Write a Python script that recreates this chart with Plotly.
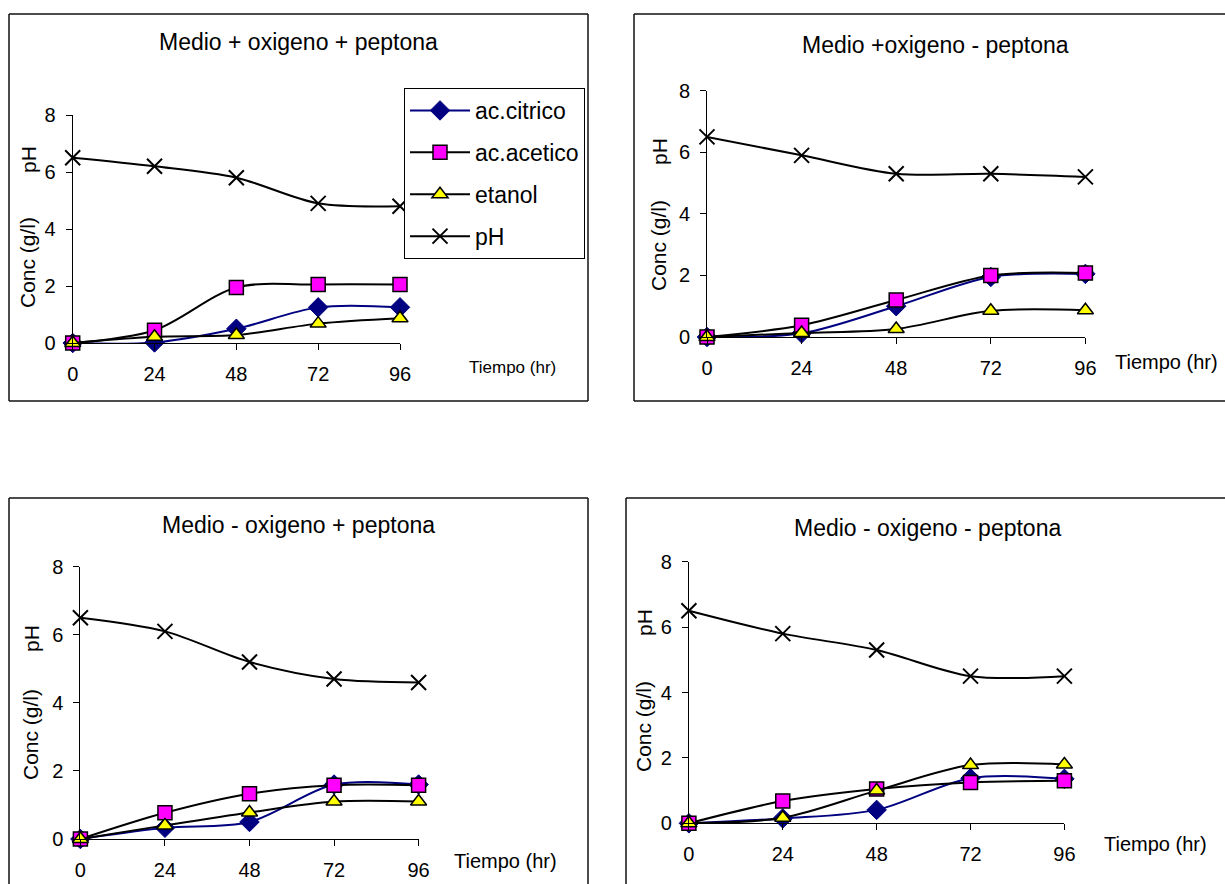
import plotly.graph_objects as go

# ---------------- data ----------------
tiempo = [0, 24, 48, 72, 96]
tiempo_labels = ["0", "24", "48", "72", "96"]
y_ticks = [0, 2, 4, 6, 8]
series_names = ["ac.citrico", "ac.acetico", "etanol", "pH"]

titles = ["Medio + oxigeno + peptona", "Medio +oxigeno - peptona",
          "Medio - oxigeno + peptona", "Medio - oxigeno - peptona"]

p1_citrico = [0, 0.02, 0.5, 1.25, 1.25]
p1_acetico = [0, 0.45, 1.95, 2.05, 2.05]
p1_etanol = [0, 0.22, 0.28, 0.68, 0.87]
p1_ph = [6.5, 6.2, 5.8, 4.9, 4.8]

p2_citrico = [0, 0.12, 1.0, 1.95, 2.05]
p2_acetico = [0, 0.38, 1.2, 2.0, 2.08]
p2_etanol = [0, 0.13, 0.26, 0.85, 0.87]
p2_ph = [6.5, 5.9, 5.3, 5.3, 5.2]

p3_citrico = [0, 0.33, 0.5, 1.6, 1.6]
p3_acetico = [0, 0.77, 1.33, 1.58, 1.58]
p3_etanol = [0, 0.4, 0.78, 1.1, 1.1]
p3_ph = [6.5, 6.1, 5.2, 4.7, 4.6]

p4_citrico = [0, 0.15, 0.41, 1.38, 1.36]
p4_acetico = [0, 0.68, 1.05, 1.25, 1.3]
p4_etanol = [0, 0.17, 1.0, 1.78, 1.8]
p4_ph = [6.5, 5.8, 5.3, 4.5, 4.5]

panel_data = [
    [p1_citrico, p1_acetico, p1_etanol, p1_ph],
    [p2_citrico, p2_acetico, p2_etanol, p2_ph],
    [p3_citrico, p3_acetico, p3_etanol, p3_ph],
    [p4_citrico, p4_acetico, p4_etanol, p4_ph],
]

# ---------------- layout geometry (pixels) ----------------
W, H = 1225, 884
FONT = "Liberation Sans, Arial, Helvetica, sans-serif"


def fx(x):
    return x / W


def fy(y):
    return 1 - y / H


geo = [
    dict(xd=(72.7, 400), yd=(343, 115), title=(298, 42), ph=(28, 160), conc=(27, 263),
         tiempo=(512, 367), tsize=17, frame=(9, 14, 588, 401)),
    dict(xd=(707, 1085.4), yd=(337, 90.7), title=(936, 45), ph=(659, 152), conc=(658, 246),
         tiempo=(1166, 362), tsize=20, frame=(634, 14, None, 401)),
    dict(xd=(80.4, 418.6), yd=(839, 566.7), title=(298, 525), ph=(31, 639), conc=(30, 735),
         tiempo=(505, 861), tsize=20, frame=(9, 498, 588, None)),
    dict(xd=(688.9, 1064.4), yd=(823.3, 561.7), title=(927, 528), ph=(644, 623), conc=(643, 727),
         tiempo=(1155, 844), tsize=20, frame=(626, 498, None, None)),
]

styles = [
    dict(line=dict(color="#000080", width=2),
         marker=dict(symbol="diamond", size=15, color="#000080", line=dict(color="#000080", width=1))),
    dict(line=dict(color="#000000", width=2),
         marker=dict(symbol="square", size=14, color="#FF00FF", line=dict(color="#000000", width=1.5))),
    dict(line=dict(color="#000000", width=2),
         marker=dict(symbol="triangle-up", size=14, color="#FFFF00", line=dict(color="#000000", width=1.5))),
    dict(line=dict(color="#000000", width=2),
         marker=dict(symbol="x-thin", size=15, color="#000000", line=dict(color="#000000", width=2))),
]

fig = go.Figure()
annotations = []
shapes = []
layout_axes = {}


def seg(x0, y0, x1, y1):
    return dict(type="line", xref="paper", yref="paper",
                x0=fx(x0), x1=fx(x1), y0=fy(y0), y1=fy(y1),
                line=dict(color="#111111", width=1.5), layer="below")


for i, (data, g) in enumerate(zip(panel_data, geo)):
    n = "" if i == 0 else str(i + 1)
    for j, (name, vals) in enumerate(zip(series_names, data)):
        st = styles[j]
        fig.add_trace(go.Scatter(
            x=tiempo, y=vals, name=name, mode="lines+markers",
            line=dict(color=st["line"]["color"], width=st["line"]["width"], shape="spline", smoothing=0.9),
            marker=st["marker"], cliponaxis=False,
            xaxis="x" + n, yaxis="y" + n,
            showlegend=(i == 0), legendgroup=name,
        ))
    common = dict(ticks="outside", ticklen=6, tickwidth=1, tickcolor="black",
                  showline=True, linecolor="black", linewidth=1,
                  showgrid=False, zeroline=False, automargin=False,
                  tickfont=dict(family=FONT, size=20, color="black"), fixedrange=True)
    layout_axes["xaxis" + n] = dict(
        domain=[fx(g["xd"][0]), fx(g["xd"][1])], range=[0, 96], anchor="y" + n,
        tickvals=tiempo, ticktext=tiempo_labels, ticklabelstandoff=7, **common)
    layout_axes["yaxis" + n] = dict(
        domain=[fy(g["yd"][0]), fy(g["yd"][1])], range=[0, 8], anchor="x" + n,
        tickvals=y_ticks, ticklabelstandoff=6, **common)
    annotations.append(dict(text=titles[i], x=fx(g["title"][0]), y=fy(g["title"][1]),
                            xref="paper", yref="paper", showarrow=False,
                            xanchor="center", yanchor="middle",
                            font=dict(family=FONT, size=23, color="black")))
    annotations.append(dict(text="pH", x=fx(g["ph"][0]), y=fy(g["ph"][1]),
                            xref="paper", yref="paper", showarrow=False, textangle=-90,
                            xanchor="center", yanchor="middle",
                            font=dict(family=FONT, size=21, color="black")))
    annotations.append(dict(text="Conc (g/l)", x=fx(g["conc"][0]), y=fy(g["conc"][1]),
                            xref="paper", yref="paper", showarrow=False, textangle=-90,
                            xanchor="center", yanchor="middle",
                            font=dict(family=FONT, size=21, color="black")))
    annotations.append(dict(text="Tiempo (hr)", x=fx(g["tiempo"][0]), y=fy(g["tiempo"][1]),
                            xref="paper", yref="paper", showarrow=False,
                            xanchor="center", yanchor="middle",
                            font=dict(family=FONT, size=g["tsize"], color="black")))
    x0, y0, x1, y1 = g["frame"]
    xr = x1 if x1 is not None else W
    yb = y1 if y1 is not None else H
    shapes.append(seg(x0, y0, xr, y0))          # top
    shapes.append(seg(x0, y0, x0, yb))          # left
    if x1 is not None:
        shapes.append(seg(x1, y0, x1, yb))      # right
    if y1 is not None:
        shapes.append(seg(x0, y1, xr, y1))      # bottom

fig.update_layout(
    template="none",
    width=W, height=H, margin=dict(l=0, r=0, t=0, b=0, pad=0),
    paper_bgcolor="white", plot_bgcolor="white",
    font=dict(family=FONT, color="black"),
    annotations=annotations, shapes=shapes,
    legend=dict(x=fx(404), y=fy(88), xanchor="left", yanchor="top",
                bgcolor="white", bordercolor="black", borderwidth=1,
                font=dict(family=FONT, size=23, color="black"),
                tracegroupgap=9, itemwidth=60),
    **layout_axes,
)

fig.write_html("out.html")
